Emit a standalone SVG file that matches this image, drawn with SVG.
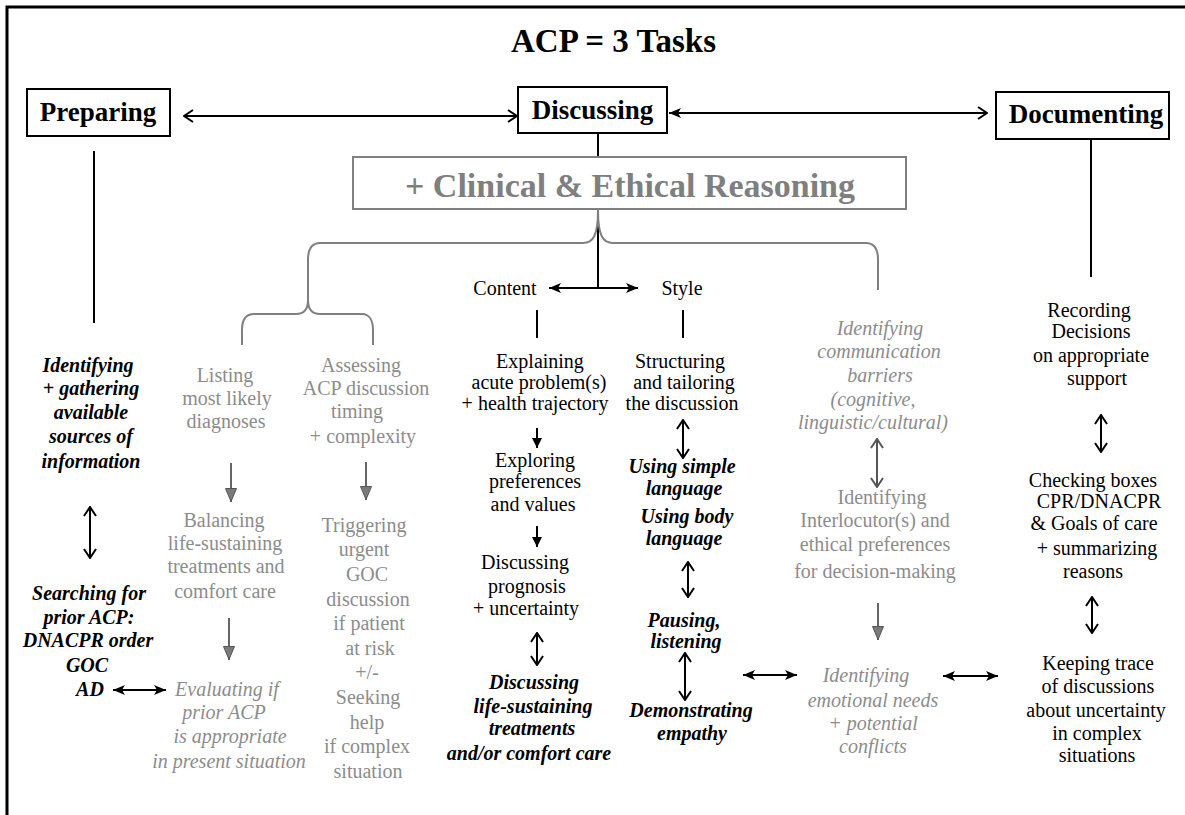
<svg xmlns="http://www.w3.org/2000/svg" width="1185" height="815" viewBox="0 0 1185 815">
<style>
  text { font-family: "Liberation Serif", "Times New Roman", serif; font-size: 20px; text-anchor: middle; }
  .hdr { font-size: 27px; font-weight: bold; fill: #000; }
  .blk { fill: #000; }
  .gry { fill: #8c8c8c; }
  .bi { font-weight: bold; font-style: italic; }
  .it { font-style: italic; }
  .box { fill: #fff; stroke: #000; stroke-width: 2; }
  .ln { stroke: #000; stroke-width: 2; fill: none; }
  .brace { stroke: #808080; stroke-width: 2; fill: none; }
  .open { stroke: #000; stroke-width: 2; fill: none; marker-start: url(#mOpen); marker-end: url(#mOpen); }
  .mixed { stroke: #000; stroke-width: 2; fill: none; marker-start: url(#mSolid); marker-end: url(#mOpen); }
  .openg { stroke: #555; stroke-width: 2; fill: none; marker-start: url(#mOpenG); marker-end: url(#mOpenG); }
  .solid2 { stroke: #000; stroke-width: 2; fill: none; marker-start: url(#mSolid); marker-end: url(#mSolid); }
  .down { stroke: #000; stroke-width: 2; fill: none; marker-end: url(#mSmall); }
  .gdown { stroke: #666; stroke-width: 2; fill: none; marker-end: url(#mGray); }
</style>
<defs>
  <marker id="mOpen" viewBox="0 0 12 14" refX="11" refY="7" markerWidth="12" markerHeight="14" orient="auto-start-reverse" markerUnits="userSpaceOnUse">
    <path d="M2,1 L11,7 L2,13" fill="none" stroke="#000" stroke-width="2"/>
  </marker>
  <marker id="mOpenG" viewBox="0 0 12 14" refX="11" refY="7" markerWidth="12" markerHeight="14" orient="auto-start-reverse" markerUnits="userSpaceOnUse">
    <path d="M2,1 L11,7 L2,13" fill="none" stroke="#555" stroke-width="2"/>
  </marker>
  <marker id="mSolid" viewBox="0 0 12 10" refX="12" refY="5" markerWidth="12" markerHeight="10" orient="auto-start-reverse" markerUnits="userSpaceOnUse">
    <path d="M0,0 L12,5 L0,10 L3,5 Z" fill="#000"/>
  </marker>
  <marker id="mSmall" viewBox="0 0 10 10" refX="10" refY="5" markerWidth="10" markerHeight="10" orient="auto" markerUnits="userSpaceOnUse">
    <path d="M0,0 L10,5 L0,10 Z" fill="#000"/>
  </marker>
  <marker id="mGray" viewBox="0 0 14 12" refX="14" refY="6" markerWidth="14" markerHeight="12" orient="auto" markerUnits="userSpaceOnUse">
    <path d="M0.5,0.5 L13.5,6 L0.5,11.5 Z" fill="#7a7a7a" stroke="#555" stroke-width="1"/>
  </marker>
</defs>

<rect x="0" y="0" width="1185" height="815" fill="#fff"/>
<rect x="7" y="7" width="1260" height="900" fill="none" stroke="#000" stroke-width="3"/>

<g id="title">
  <text x="511" y="52" style="font-size:33px;font-weight:bold;text-anchor:start">ACP = 3 Tasks</text>
</g>

<g id="connectors">
  <line class="open" x1="184" y1="116" x2="517" y2="116"/>
  <line class="mixed" x1="669" y1="113" x2="987" y2="113"/>
  <line class="ln" x1="598" y1="133" x2="598" y2="157"/>
  <line class="ln" x1="94" y1="151" x2="94" y2="323"/>
  <line class="ln" x1="1091" y1="139" x2="1091" y2="277"/>
  <line class="ln" x1="598" y1="209" x2="598" y2="288"/>
  <path class="brace" d="M598,210 C598,236 603,243 613,243 L866,243 C874,243 878,249 878,260 L878,290"/>
  <path class="brace" d="M598,210 C598,236 593,243 583,243 L320,243 C312,243 308,249 308,260 L308,300"/>
  <path class="brace" d="M308,300 C308,310 304,314 296,314 L254,314 C246,314 242,320 242,330 L242,345"/>
  <path class="brace" d="M308,300 C308,310 312,314 320,314 L362,314 C369,314 373,320 373,330 L373,345"/>
  <line class="solid2" x1="549" y1="288" x2="638" y2="288"/>
  <line class="ln" x1="537" y1="310" x2="537" y2="338"/>
  <line class="ln" x1="683" y1="310" x2="683" y2="338"/>
  <line class="open" x1="90" y1="507" x2="90" y2="558"/>
  <line class="solid2" x1="113" y1="690" x2="166" y2="690"/>
  <line class="gdown" x1="231" y1="463" x2="231" y2="502"/>
  <line class="gdown" x1="229" y1="618" x2="229" y2="660"/>
  <line class="gdown" x1="366" y1="462" x2="366" y2="500"/>
  <line class="down" x1="537" y1="428" x2="537" y2="448"/>
  <line class="down" x1="537" y1="526" x2="537" y2="547"/>
  <line class="open" x1="537" y1="633" x2="537" y2="665"/>
  <line class="open" x1="683" y1="420" x2="683" y2="458"/>
  <line class="open" x1="688" y1="562" x2="688" y2="597"/>
  <line class="open" x1="685" y1="653" x2="685" y2="700"/>
  <line class="solid2" x1="743" y1="675" x2="797" y2="675"/>
  <line class="openg" x1="877" y1="439" x2="877" y2="487"/>
  <line class="gdown" x1="878" y1="603" x2="878" y2="640"/>
  <line class="solid2" x1="943" y1="676" x2="998" y2="676"/>
  <line class="open" x1="1101" y1="415" x2="1101" y2="452"/>
  <line class="open" x1="1092" y1="597" x2="1092" y2="633"/>
</g>

<g id="preparing">
  <rect class="box" x="27" y="89" width="143" height="47"/>
  <text class="hdr" x="98" y="121">Preparing</text>
</g>
<g id="discussing">
  <rect class="box" x="518" y="87" width="149" height="46"/>
  <text class="hdr" x="592.5" y="119">Discussing</text>
</g>
<g id="documenting">
  <rect class="box" x="996" y="92" width="173" height="47"/>
  <text class="hdr" x="1086" y="123">Documenting</text>
</g>
<g id="reasoning">
  <rect x="353" y="157" width="553" height="52" fill="#fff" stroke="#808080" stroke-width="2"/>
  <text x="630" y="197" style="font-size:34px;font-weight:bold;fill:#7f7f7f">+ Clinical &amp; Ethical Reasoning</text>
</g>
<g id="content">
  <text class="blk" x="505" y="295">Content</text>
</g>
<g id="style">
  <text class="blk" x="682" y="295">Style</text>
</g>

<g id="identifying-sources">
  <text class="blk bi"><tspan x="88" y="372">Identifying</tspan><tspan x="91" y="395">+ gathering</tspan><tspan x="91" y="419">available</tspan><tspan x="91" y="443">sources of</tspan><tspan x="91" y="468">information</tspan></text>
</g>
<g id="searching-prior">
  <text class="blk bi"><tspan x="89" y="600">Searching for</tspan><tspan x="89" y="624">prior ACP:</tspan><tspan x="88" y="647">DNACPR order</tspan><tspan x="87" y="672">GOC</tspan><tspan x="90" y="696">AD</tspan></text>
</g>
<g id="listing">
  <text class="gry"><tspan x="225" y="382">Listing</tspan><tspan x="227" y="405">most likely</tspan><tspan x="226" y="428">diagnoses</tspan></text>
</g>
<g id="balancing">
  <text class="gry"><tspan x="224" y="527">Balancing</tspan><tspan x="225" y="550">life-sustaining</tspan><tspan x="226" y="573">treatments and</tspan><tspan x="225" y="598">comfort care</tspan></text>
</g>
<g id="evaluating">
  <text class="gry it"><tspan x="227" y="696">Evaluating if</tspan><tspan x="224" y="719">prior ACP</tspan><tspan x="230" y="743">is appropriate</tspan><tspan x="229" y="768">in present situation</tspan></text>
</g>
<g id="assessing">
  <text class="gry"><tspan x="361" y="372">Assessing</tspan><tspan x="366" y="395">ACP discussion</tspan><tspan x="357" y="418">timing</tspan><tspan x="363" y="443">+ complexity</tspan></text>
</g>
<g id="triggering">
  <text class="gry"><tspan x="364" y="532">Triggering</tspan><tspan x="364" y="556">urgent</tspan><tspan x="367" y="581">GOC</tspan><tspan x="368" y="606">discussion</tspan><tspan x="369" y="630">if patient</tspan><tspan x="370" y="655">at risk</tspan><tspan x="367" y="679">+/-</tspan><tspan x="368" y="704">Seeking</tspan><tspan x="367" y="729">help</tspan><tspan x="367" y="753">if complex</tspan><tspan x="368" y="778">situation</tspan></text>
</g>
<g id="explaining">
  <text class="blk"><tspan x="540" y="368">Explaining</tspan><tspan x="539" y="389">acute problem(s)</tspan><tspan x="535" y="410">+ health trajectory</tspan></text>
</g>
<g id="exploring">
  <text class="blk"><tspan x="535" y="467">Exploring</tspan><tspan x="535" y="488">preferences</tspan><tspan x="533" y="511">and values</tspan></text>
</g>
<g id="prognosis">
  <text class="blk"><tspan x="525" y="569">Discussing</tspan><tspan x="527" y="593">prognosis</tspan><tspan x="526" y="615">+ uncertainty</tspan></text>
</g>
<g id="life-sustaining">
  <text class="blk bi"><tspan x="534" y="689">Discussing</tspan><tspan x="533" y="713">life-sustaining</tspan><tspan x="532" y="735">treatments</tspan><tspan x="529" y="760">and/or comfort care</tspan></text>
</g>
<g id="structuring">
  <text class="blk"><tspan x="680" y="368">Structuring</tspan><tspan x="684" y="389">and tailoring</tspan><tspan x="682" y="410">the discussion</tspan></text>
</g>
<g id="language">
  <text class="blk bi"><tspan x="682" y="473">Using simple</tspan><tspan x="684" y="495">language</tspan><tspan x="687" y="523">Using body</tspan><tspan x="684" y="545">language</tspan></text>
</g>
<g id="pausing">
  <text class="blk bi"><tspan x="684" y="627">Pausing,</tspan><tspan x="686" y="648">listening</tspan></text>
</g>
<g id="empathy">
  <text class="blk bi"><tspan x="691" y="717">Demonstrating</tspan><tspan x="692" y="740">empathy</tspan></text>
</g>
<g id="barriers">
  <text class="gry it"><tspan x="880" y="335">Identifying</tspan><tspan x="879" y="358">communication</tspan><tspan x="880" y="382">barriers</tspan><tspan x="873" y="406">(cognitive,</tspan><tspan x="873" y="429">linguistic/cultural)</tspan></text>
</g>
<g id="interlocutors">
  <text class="gry"><tspan x="882" y="504">Identifying</tspan><tspan x="875" y="527">Interlocutor(s) and</tspan><tspan x="875" y="551">ethical preferences</tspan><tspan x="875" y="578">for decision-making</tspan></text>
</g>
<g id="emotional">
  <text class="gry it"><tspan x="866" y="682">Identifying</tspan><tspan x="873" y="707">emotional needs</tspan><tspan x="873" y="730">+ potential</tspan><tspan x="873" y="753">conflicts</tspan></text>
</g>
<g id="recording">
  <text class="blk"><tspan x="1089" y="317">Recording</tspan><tspan x="1091" y="338">Decisions</tspan><tspan x="1091" y="362">on appropriate</tspan><tspan x="1097" y="385">support</tspan></text>
</g>
<g id="checking">
  <text class="blk"><tspan x="1093" y="487">Checking boxes</tspan><tspan x="1099" y="508">CPR/DNACPR</tspan><tspan x="1094" y="530">&amp; Goals of care</tspan><tspan x="1097" y="555">+ summarizing</tspan><tspan x="1093" y="578">reasons</tspan></text>
</g>
<g id="keeping">
  <text class="blk"><tspan x="1098" y="670">Keeping trace</tspan><tspan x="1098" y="693">of discussions</tspan><tspan x="1096" y="717">about uncertainty</tspan><tspan x="1097" y="740">in complex</tspan><tspan x="1097" y="762">situations</tspan></text>
</g>
</svg>
